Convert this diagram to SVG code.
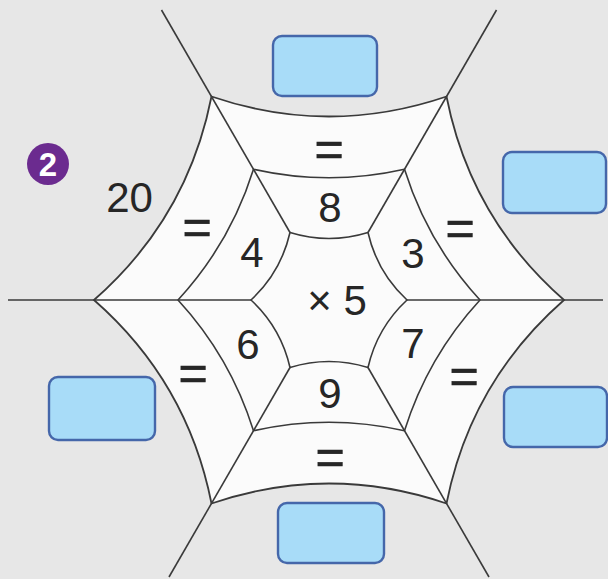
<svg xmlns="http://www.w3.org/2000/svg" width="608" height="579" viewBox="0 0 608 579">
<style>
.web{fill:none;stroke:#3a3a3a;stroke-width:1.6;stroke-linejoin:round}
.box{fill:#a8dcf8;stroke:#4567aa;stroke-width:2.4}
.t{font-family:"Liberation Sans",Arial,sans-serif;font-size:42px;fill:#262626;text-anchor:middle}
.eq{font-family:"Liberation Sans",Arial,sans-serif;font-size:50px;fill:#262626;stroke:#262626;stroke-width:0.7;text-anchor:middle}
</style>
<rect width="608" height="579" fill="#e7e7e7"/>
<g id="web">
<path d="M 564,300 Q 470.6,381.8 446.5,503.5 Q 329,463.5 211.5,503.5 Q 187.4,381.8 94,300 Q 187.4,218.3 211.5,96.5 Q 329,136.5 446.5,96.5 Q 470.6,218.3 564,300 Z" fill="#fbfbfb" stroke="#3a3a3a" stroke-width="1.8"/>
<path class="web" d="M 480,300 Q 427.6,356.9 404.5,430.8 Q 329,413.8 253.5,430.8 Q 230.4,356.9 178,300 Q 230.4,243.1 253.5,169.2 Q 329,186.2 404.5,169.2 Q 427.6,243.1 480,300 Z"/>
<path class="web" d="M 407,300 Q 377.1,327.8 368,367.5 Q 329,355.5 290,367.5 Q 280.9,327.8 251,300 Q 280.9,272.3 290,232.5 Q 329,244.5 368,232.5 Q 377.1,272.3 407,300 Z"/>
</g>
<g id="connectors" class="web">
<line x1="407" y1="300" x2="603" y2="300"/>
<line x1="251" y1="300" x2="8" y2="300"/>
<line x1="290" y1="232.5" x2="161.5" y2="10"/>
<line x1="368" y1="232.5" x2="496.5" y2="10"/>
<line x1="368" y1="367.5" x2="489" y2="577"/>
<line x1="290" y1="367.5" x2="169" y2="577"/>
</g>
<g id="boxes">
<rect id="box-top" class="box" x="273" y="36" width="104" height="60" rx="9"/>
<rect id="box-right-top" class="box" x="503" y="152" width="103" height="61" rx="9"/>
<rect id="box-left" class="box" x="49" y="377" width="106" height="63" rx="9"/>
<rect id="box-right-bottom" class="box" x="504" y="387" width="103" height="60" rx="9"/>
<rect id="box-bottom" class="box" x="278" y="503" width="106" height="60" rx="9"/>
</g>
<g id="badge">
<circle cx="48" cy="164" r="21" fill="#6b2b8f"/>
<text x="48" y="176" font-family="Liberation Sans,Arial,sans-serif" font-size="33" font-weight="bold" fill="#ffffff" text-anchor="middle">2</text>
</g>
<g id="labels">
<text class="t" x="129.5" y="212">20</text>
<text class="t" x="330" y="222">8</text>
<text class="t" x="252" y="267">4</text>
<text class="t" x="413" y="268">3</text>
<text class="t" x="337" y="315">× 5</text>
<text class="t" x="248" y="359">6</text>
<text class="t" x="413" y="358">7</text>
<text class="t" x="330" y="408">9</text>
<text class="eq" x="329" y="166">=</text>
<text class="eq" x="197" y="244">=</text>
<text class="eq" x="460" y="245">=</text>
<text class="eq" x="193" y="390">=</text>
<text class="eq" x="464" y="393">=</text>
<text class="eq" x="330" y="474">=</text>
</g>
</svg>
